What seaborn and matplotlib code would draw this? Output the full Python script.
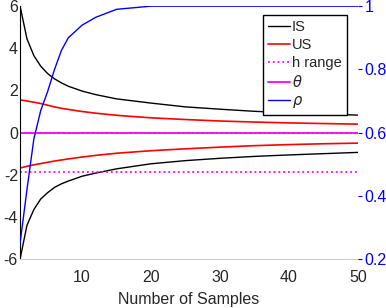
import matplotlib
matplotlib.use("Agg")
import matplotlib.pyplot as plt
import seaborn as sns
import pandas as pd

# 샘플 수
n = [1, 2, 3, 4, 5, 6, 7, 8, 10, 12, 15, 20, 25, 30, 35, 40, 45, 50]

is_upper = [6.0, 4.45, 3.65, 3.15, 2.8, 2.55, 2.36, 2.2, 1.97, 1.8, 1.6, 1.4, 1.22, 1.11, 1.01, 0.94, 0.88, 0.83]
is_lower = [-6.0, -4.4, -3.65, -3.15, -2.85, -2.6, -2.43, -2.3, -2.07, -1.92, -1.72, -1.48, -1.33, -1.22, -1.13, -1.06, -1.0, -0.94]
us_upper = [1.55, 1.5, 1.44, 1.38, 1.3, 1.22, 1.15, 1.1, 1.0, 0.92, 0.82, 0.7, 0.62, 0.55, 0.5, 0.46, 0.43, 0.4]
us_lower = [-1.68, -1.6, -1.53, -1.47, -1.41, -1.35, -1.3, -1.25, -1.16, -1.08, -0.98, -0.86, -0.77, -0.69, -0.62, -0.57, -0.53, -0.5]
rho = [0.25, 0.42, 0.58, 0.67, 0.73, 0.8, 0.86, 0.9, 0.94, 0.965, 0.99, 1.0, 1.0, 1.0, 1.0, 1.0, 1.0, 1.0]

h_range = [0.0, -1.85]
theta = -0.04

x_ticks = [10, 20, 30, 40, 50]
left_ticks = [-6, -4, -2, 0, 2, 4, 6]
right_ticks = [0.2, 0.4, 0.6, 0.8, 1.0]
right_labels = ["0.2", "0.4", "0.6", "0.8", "1"]

sns.set_style("white")
plt.rcParams["font.family"] = ["Liberation Sans", "DejaVu Sans"]
plt.rcParams["axes.unicode_minus"] = False

df = pd.DataFrame({"n": n, "is_up": is_upper, "is_lo": is_lower,
                   "us_up": us_upper, "us_lo": us_lower, "rho": rho})

fig = plt.figure(figsize=(3.86, 3.08), dpi=100)
ax = fig.add_axes([0.052, 0.159, 0.875, 0.821])

sns.lineplot(data=df, x="n", y="is_up", color="black", lw=1.0, ax=ax, label="IS")
sns.lineplot(data=df, x="n", y="is_lo", color="black", lw=1.0, ax=ax)
sns.lineplot(data=df, x="n", y="us_up", color="red", lw=1.2, ax=ax, label="US")
sns.lineplot(data=df, x="n", y="us_lo", color="red", lw=1.2, ax=ax)
for k, h in enumerate(h_range):
    ax.axhline(h, color="magenta", ls=":", lw=1.3, label="h range" if k == 0 else None)
ax.axhline(theta, color="magenta", lw=1.3, label=r"$\theta$")

ax.set_xlim(1, 50)
ax.set_ylim(-6, 6)
ax.set_xticks(x_ticks)
ax.set_yticks(left_ticks)
ax.set_xlabel("Number of Samples", fontsize=11.5, labelpad=5)
ax.set_ylabel("")
ax.tick_params(axis="x", direction="in", length=3, color="#bbbbbb", labelsize=11.5, pad=8)
ax.tick_params(axis="y", direction="in", length=0, labelsize=11.5, pad=1.5)
for s in ["top", "right"]:
    ax.spines[s].set_visible(False)
ax.spines["left"].set_color("black")
ax.spines["bottom"].set_color("#cccccc")
if ax.get_legend():
    ax.get_legend().remove()

ax2 = ax.twinx()
sns.lineplot(data=df, x="n", y="rho", color="blue", lw=1.0, ax=ax2, label=r"$\rho$")
ax2.set_ylim(0.2, 1.0)
ax2.set_yticks(right_ticks)
ax2.set_yticklabels(right_labels)
ax2.set_ylabel("")
ax2.tick_params(axis="y", direction="out", length=3, colors="blue", labelsize=11.5, pad=2)
for s in ["top", "right", "left", "bottom"]:
    ax2.spines[s].set_visible(False)

# 범례: 두 축의 핸들을 합쳐서 위쪽 축에 표시
h1, l1 = ax.get_legend_handles_labels()
h2, l2 = ax2.get_legend_handles_labels()
ax2.legend(h1 + h2, l1 + l2, loc="upper right", fontsize=10.5, frameon=True,
           fancybox=False, edgecolor="black", framealpha=1, handlelength=1.5,
           handletextpad=0.15, borderpad=0.33, labelspacing=0.28,
           borderaxespad=0, bbox_to_anchor=(0.967, 0.964))

plt.savefig("out.png", dpi=100)
